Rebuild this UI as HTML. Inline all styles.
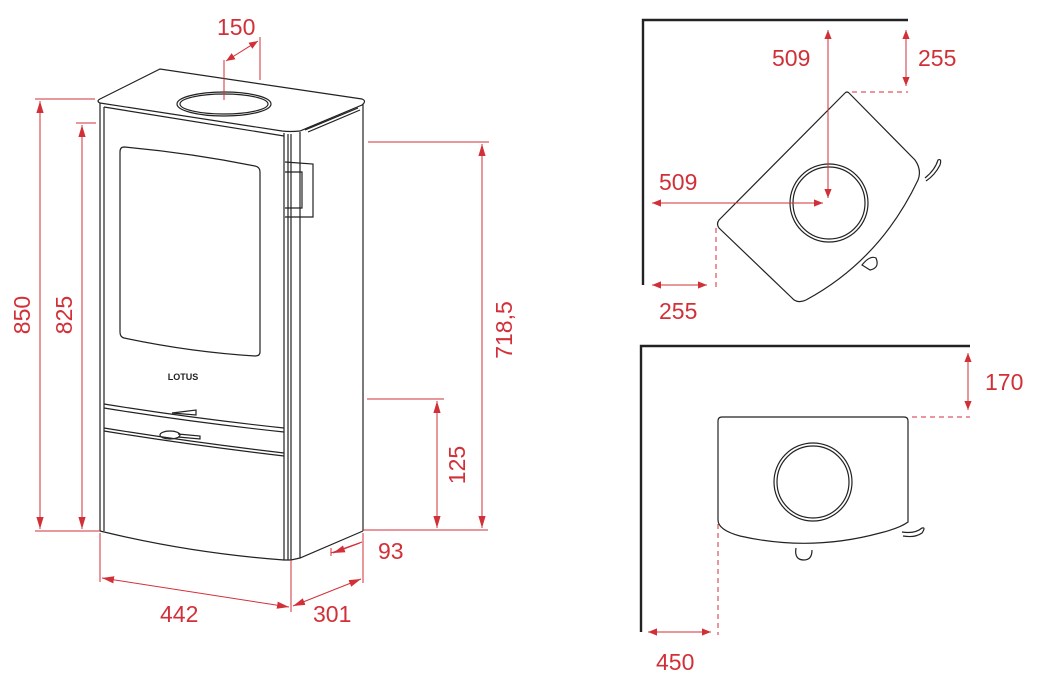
<!DOCTYPE html>
<html><head><meta charset="utf-8"><style>
html,body{margin:0;padding:0;background:#fff;}
svg{display:block;}
text{font-family:"Liberation Sans",sans-serif;fill:#d23038;font-size:23px;}
</style></head><body>
<svg width="1060" height="686" viewBox="0 0 1060 686" xmlns="http://www.w3.org/2000/svg">
<defs>
<marker id="a" viewBox="0 0 10 10" refX="10" refY="5" markerWidth="9" markerHeight="9" orient="auto-start-reverse" markerUnits="userSpaceOnUse"><path d="M0,1 L10,5 L0,9 z" fill="#d23038"/></marker>
<marker id="b" viewBox="0 0 10 10" refX="10" refY="5" markerWidth="12" markerHeight="14" orient="auto-start-reverse" markerUnits="userSpaceOnUse"><path d="M0,2 L10,5 L0,8 z" fill="#d23038"/></marker>
</defs>
<g fill="none" stroke="#222" stroke-width="1.2">
<!-- top -->
<path d="M100,99 Q96,101 100,103 L282,131 Q290,132 300,131 L362,105 Q367,101 362,99 L160,69 Z"/>
<path d="M104,107 L284,136"/>
<ellipse cx="224" cy="104" rx="47" ry="12"/>
<ellipse cx="224" cy="104" rx="44" ry="10"/>
<path d="M305,130 L358,108 M308,132 L360,110"/>
<!-- front body -->
<path d="M100,103 L100,531 M104,107 L104,531"/>
<path d="M284,133 L284,560 M288,134 L288,560 M291,134 L291,560 M300,132 L300,558 M363,104 L363,531"/>
<path d="M100,531 Q190,553 284,560 L291,560 L300,558 L363,531"/>
<!-- window -->
<path d="M124,147 Q190,153 255,166 Q260,167 260,172 L260,352 Q260,356 255,356 Q190,352 124,338 Q120,337 120,332 L120,152 Q120,147 124,147 Z"/>
<!-- handle -->
<path d="M285,162 L313,164 L313,217 L285,217 M285,172 L302,172 L302,208 L285,208"/>
<!-- drawers -->
<path d="M104,404 Q190,418 284,428 M104,408 Q190,422 284,432"/>
<path d="M104,428 Q190,442 284,453 M104,431 Q190,445 284,456"/>
<path d="M172,413 L196,410 L196,415 L172,413" />
<ellipse cx="170" cy="435" rx="10" ry="4"/>
<path d="M178,434 L200,436 L200,439 L178,437"/>
<!-- top right wall -->
<path d="M643,285 L643,20 L908,20" stroke-width="2.4"/>
<path d="M849,93 L915,160 Q922,170 918,180 Q880,260 806,300 Q797,304 792,298 L719,228 Q716,224 719,220 L845,93 Q847,91 849,93 Z"/>
<circle cx="829" cy="203" r="39"/><circle cx="829" cy="203" r="36"/>
<path d="M925,178 Q935,170 938,160 Q942,158 940,165 Q935,175 926,181"/>
<path d="M862,265 Q870,255 876,258 Q880,268 870,270 Z"/>
<!-- bottom right wall -->
<path d="M641,632 L641,346 L970,346" stroke-width="2.4"/>
<path d="M722,417 L904,417 Q908,417 908,421 L908,522 Q900,528 880,533 Q810,552 740,536 Q718,530 718,520 L718,421 Q718,417 722,417 Z"/>
<circle cx="813" cy="482" r="39"/><circle cx="813" cy="482" r="36"/>
<path d="M902,532 Q915,534 922,528 Q926,527 922,533 Q915,538 903,536"/>
<path d="M796,548 Q794,560 804,560 Q812,560 812,550"/>
</g>
<g fill="none" stroke="#d23038" stroke-width="1">
<!-- 150 -->
<path d="M224,100 L224,60 M260,80 L260,37"/>
<path d="M226,61 L258,41" marker-start="url(#a)" marker-end="url(#a)"/>
<!-- 850 -->
<path d="M35,99 L95,99 M35,531 L100,531"/>
<path d="M40,101 L40,529" marker-start="url(#b)" marker-end="url(#b)"/>
<!-- 825 -->
<path d="M76,123 L96,123"/>
<path d="M82,125 L82,529" marker-start="url(#b)" marker-end="url(#b)"/>
<!-- 718,5 -->
<path d="M368,142 L489,142 M363,530 L488,530"/>
<path d="M482,144 L482,528" marker-start="url(#b)" marker-end="url(#b)"/>
<!-- 125 -->
<path d="M367,399 L444,399"/>
<path d="M437,401 L437,528" marker-start="url(#b)" marker-end="url(#b)"/>
<!-- 93 -->
<path d="M331,548 L331,556 M331,553 L362,542" />
<path d="M360,543 L333,553" marker-end="url(#b)"/>
<!-- 442 / 301 -->
<path d="M100,533 L100,582 M291,560 L291,612 M363,533 L363,583"/>
<path d="M102,578 L289,607" marker-start="url(#b)" marker-end="url(#b)"/>
<path d="M293,606 L361,579" marker-start="url(#b)" marker-end="url(#b)"/>
<!-- top right dims -->
<path d="M828,30 L828,198" marker-start="url(#a)" marker-end="url(#a)"/>
<path d="M906,30 L906,86" marker-start="url(#a)" marker-end="url(#a)"/>
<path d="M852,92 L908,92" stroke-dasharray="5,4"/>
<path d="M652,203 L823,203" marker-start="url(#a)" marker-end="url(#a)"/>
<path d="M652,285 L707,285" marker-start="url(#a)" marker-end="url(#a)"/>
<path d="M716,228 L716,288" stroke-dasharray="5,4"/>
<!-- bottom right dims -->
<path d="M968,353 L968,410" marker-start="url(#a)" marker-end="url(#a)"/>
<path d="M912,417 L970,417" stroke-dasharray="5,4"/>
<path d="M648,632 L711,632" marker-start="url(#a)" marker-end="url(#a)"/>
<path d="M718,524 L718,635" stroke-dasharray="5,4"/>
</g>
<text x="217" y="35">150</text>
<text transform="translate(30,315) rotate(-90)" text-anchor="middle">850</text>
<text transform="translate(72,315) rotate(-90)" text-anchor="middle">825</text>
<text transform="translate(512,330) rotate(-90)" text-anchor="middle">718,5</text>
<text transform="translate(465,465) rotate(-90)" text-anchor="middle">125</text>
<text x="378" y="559">93</text>
<text x="160" y="622">442</text>
<text x="313" y="622">301</text>
<text x="772" y="66">509</text>
<text x="918" y="66">255</text>
<text x="659" y="190">509</text>
<text x="659" y="319">255</text>
<text x="985" y="390">170</text>
<text x="656" y="670">450</text>
<text x="183" y="380" text-anchor="middle" style="fill:#222;font-size:9px;font-weight:bold">LOTUS</text>
</svg>
</body></html>
